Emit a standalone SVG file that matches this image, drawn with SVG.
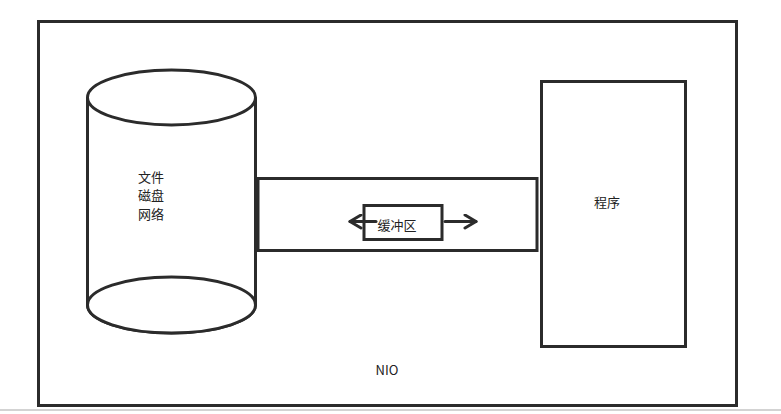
<svg xmlns="http://www.w3.org/2000/svg" width="781" height="414" viewBox="0 0 781 414">
  <style>
    .s { fill: #ffffff; stroke: #2b2b2b; stroke-width: 3; }
    .t { font-family: "Noto Sans CJK SC", "Liberation Sans", sans-serif; font-size: 13px; fill: #222222; text-anchor: middle; dominant-baseline: central; }
    .c { fill: none; stroke: #2b2b2b; stroke-width: 3; stroke-linecap: round; stroke-linejoin: round; }
  </style>
  <defs>
    <marker id="chev" viewBox="0 0 16 16" refX="13" refY="8" markerWidth="16" markerHeight="16" markerUnits="userSpaceOnUse" orient="auto">
      <path d="M2,1.5 L13,8 L2,14.5" fill="none" stroke="#2b2b2b" stroke-width="3" stroke-linecap="round" stroke-linejoin="round"/>
    </marker>
  </defs>
  <rect width="781" height="414" fill="#ffffff"/>
  <line x1="0" y1="410" x2="781" y2="410" stroke="#c4c4c4" stroke-width="1.5"/>
  <g id="nio">
    <rect class="s" x="38.5" y="21.5" width="698" height="384"/>
    <text class="t" x="387" y="369">NIO</text>
  </g>
  <g id="buffer">
    <rect class="s" x="258" y="178.5" width="279" height="72"/>
  </g>
  <g id="source">
    <path class="s" d="M87.5,97.5 L87.5,305 A84,28 0 0 0 255.5,305 L255.5,97.5"/>
    <ellipse class="s" cx="171.5" cy="305" rx="84" ry="28"/>
    <ellipse class="s" cx="171.5" cy="97.5" rx="84" ry="27.5"/>
    <text class="t" x="151" y="176">文件</text>
    <text class="t" x="151" y="194.5">磁盘</text>
    <text class="t" x="151" y="213">网络</text>
  </g>
  <g id="program">
    <rect class="s" x="541.5" y="81.5" width="144" height="265"/>
    <text class="t" x="607" y="201">程序</text>
  </g>
  <g id="buffer-box">
    <rect class="s" x="364" y="205.5" width="78" height="34"/>
    <text class="t" x="397" y="224">缓冲区</text>
  </g>
  <g id="connectors">
    <line class="c" x1="376" y1="221.5" x2="350" y2="221.5" marker-end="url(#chev)"/>
    <line class="c" x1="445" y1="221.5" x2="476" y2="221.5" marker-end="url(#chev)"/>
  </g>
</svg>
